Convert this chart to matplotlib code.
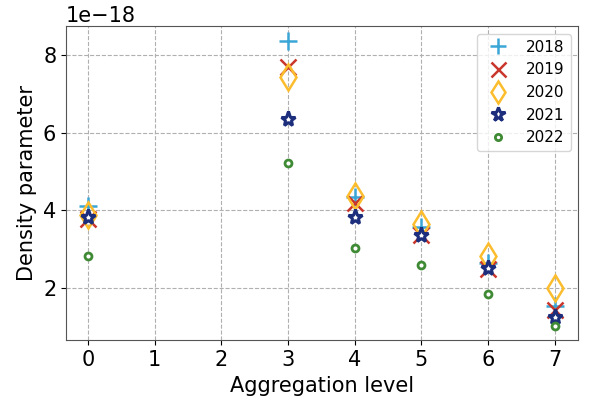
import matplotlib.pyplot as plt
import numpy as np

levels = [0, 1, 2, 3, 4, 5, 6, 7]
nan = np.nan
d2018 = [4.12, nan, nan, 8.36, 4.34, 3.57, 2.66, 1.53]
d2019 = [3.77, nan, nan, 7.69, 4.19, 3.38, 2.50, 1.45]
d2020 = [3.88, nan, nan, 7.43, 4.37, 3.64, 2.84, 2.00]
d2021 = [3.83, nan, nan, 6.35, 3.82, 3.38, 2.53, 1.27]
d2022 = [2.82, nan, nan, 5.22, 3.03, 2.59, 1.84, 1.04]

series = [
    ("2018", d2018, "+", "#3aa6d6", dict(markersize=13, markeredgewidth=1.8)),
    ("2019", d2019, "x", "#c9372c", dict(markersize=12, markeredgewidth=1.8)),
    ("2020", d2020, "d", "#fbbd2d", dict(markersize=13, markeredgewidth=1.8, markerfacecolor="none")),
    ("2021", d2021, "*", "#1c2e7c", dict(markersize=11, markeredgewidth=2.2, markerfacecolor="white")),
    ("2022", d2022, "o", "#3f8a34", dict(markersize=5, markeredgewidth=2, markerfacecolor="white")),
]

fig, ax = plt.subplots(figsize=(5.9, 3.98), dpi=100)
for name, vals, mk, col, kw in series:
    ax.plot(levels, np.array(vals) * 1e-18, linestyle="none", marker=mk,
            color=col, label=name, **kw)

ax.set_xlim(-0.33, 7.35)
ax.set_ylim(0.66e-18, 8.75e-18)
ax.set_xticks(levels)
ax.grid(True, linestyle="--", color="#b0b0b0", linewidth=0.8)
ax.tick_params(labelsize=15)
ax.yaxis.get_offset_text().set_fontsize(15)
ax.set_xlabel("Aggregation level", fontsize=15)
ax.set_ylabel("Density parameter", fontsize=15)
ax.legend(loc="upper right", fontsize=11, markerscale=0.9)
for s in ax.spines.values():
    s.set_color("#555555")

fig.subplots_adjust(left=0.112, right=0.98, top=0.935, bottom=0.145)
fig.savefig("out.png")
